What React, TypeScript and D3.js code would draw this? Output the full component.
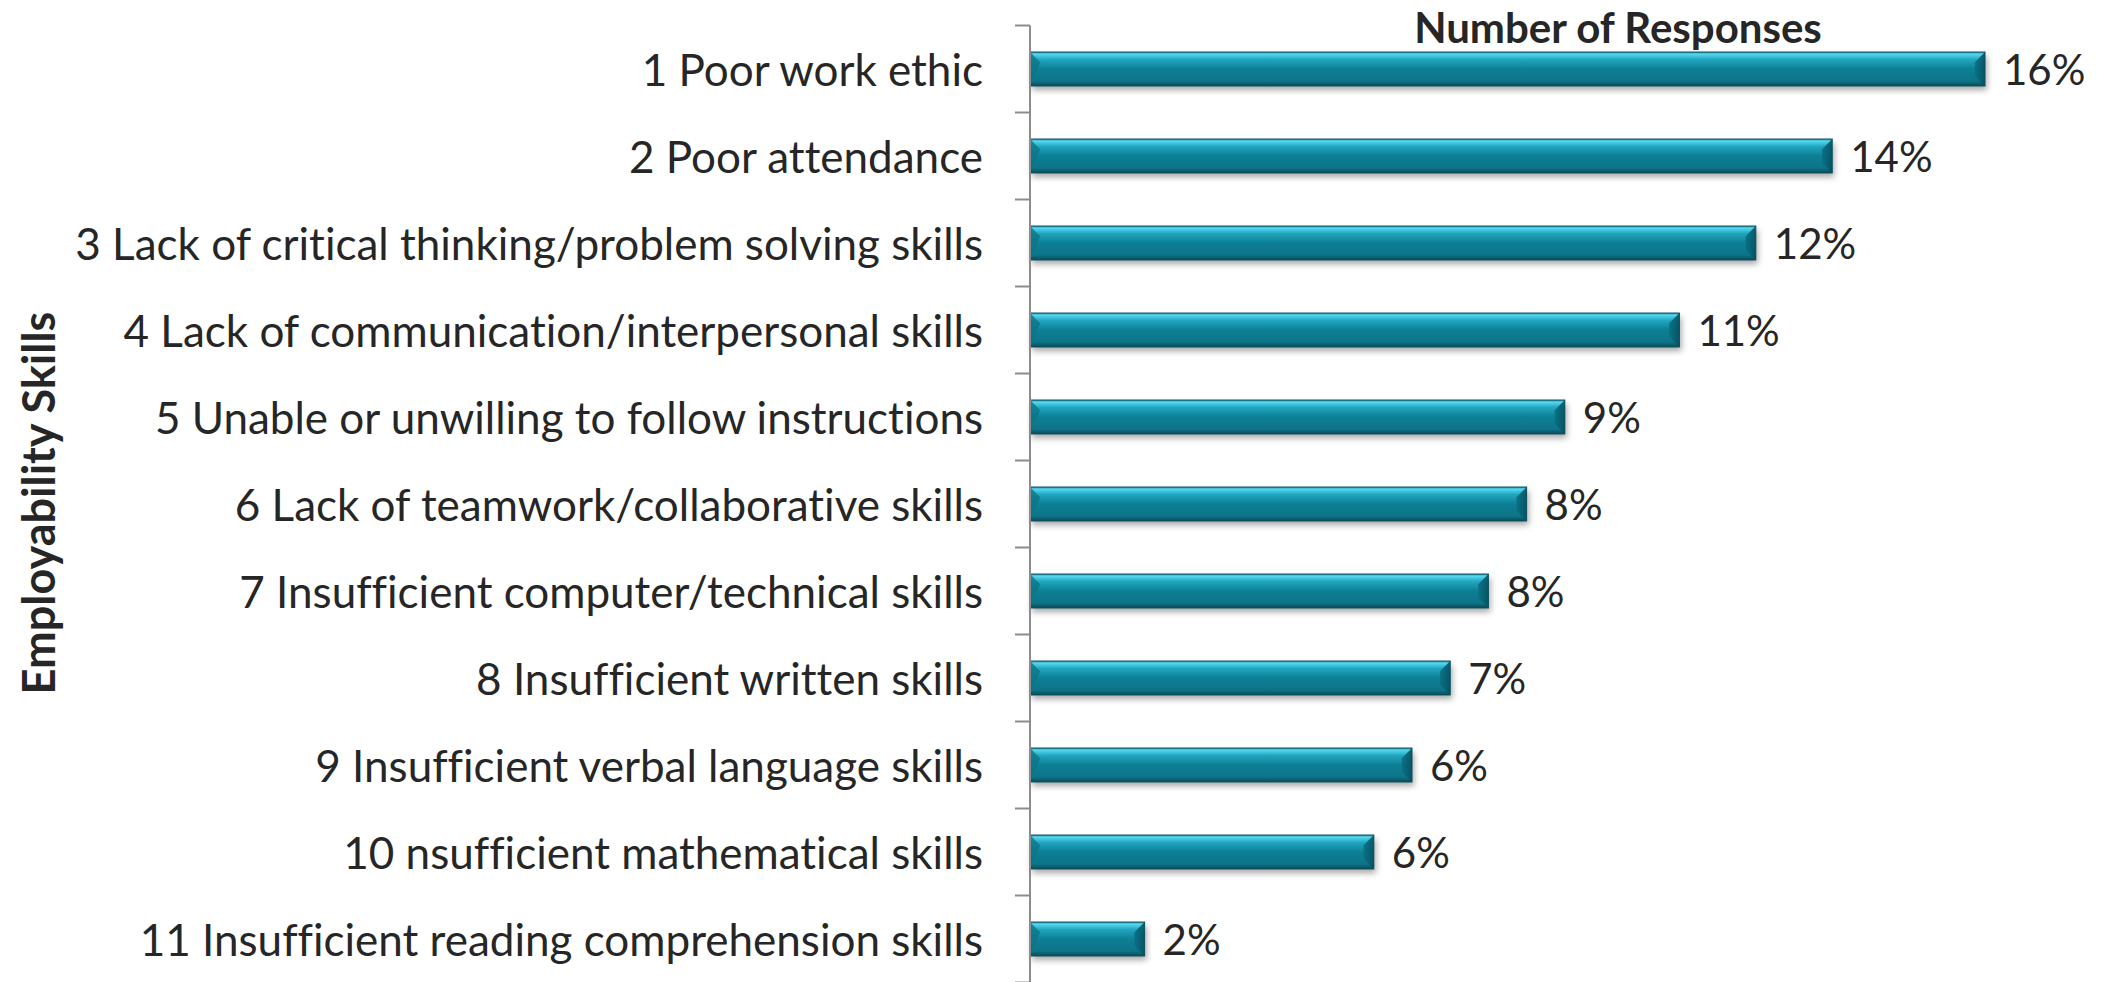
import React from "react";
import * as d3 from "d3";

const categories: string[] = [
  "1 Poor work ethic",
  "2 Poor attendance",
  "3 Lack of critical thinking/problem solving skills",
  "4 Lack of communication/interpersonal skills",
  "5 Unable or unwilling to follow instructions",
  "6 Lack of teamwork/collaborative skills",
  "7 Insufficient computer/technical skills",
  "8 Insufficient written skills",
  "9 Insufficient verbal language skills",
  "10 nsufficient mathematical skills",
  "11 Insufficient reading comprehension skills",
];
const responses: number[] = [25, 21, 19, 17, 14, 13, 12, 11, 10, 9, 3];
const percentLabels: string[] = ["16%", "14%", "12%", "11%", "9%", "8%", "8%", "7%", "6%", "6%", "2%"];
const chartTitle = "Number of Responses";
const yAxisTitle = "Employability Skills";

const W = 2106;
const H = 982;
const FONT = "Lato, 'Open Sans', sans-serif";
const noLig = { fontVariantLigatures: "none" as const };

export default function App() {
  const x = d3.scaleLinear().domain([0, 25]).range([1030, 1985]);
  const y = d3
    .scaleBand<string>()
    .domain(categories)
    .range([25.5, 982.5])
    .paddingInner(0.61)
    .paddingOuter(0.305);
  const step = y.step();
  const bw = y.bandwidth();
  const x0 = x(0);
  const boundaries = d3.range(categories.length + 1).map((i) => 25.5 + i * step);

  return (
    <svg
      width={W}
      height={H}
      style={{ position: "absolute", left: 0, top: 0, background: "#fff" }}
    >
      <defs>
        <linearGradient id="barGrad" x1="0" y1="0" x2="0" y2="1">
          <stop offset="0" stopColor="#1a8ea5" />
          <stop offset="0.06" stopColor="#55d8f0" />
          <stop offset="0.22" stopColor="#22a6bf" />
          <stop offset="0.5" stopColor="#0b7f95" />
          <stop offset="0.85" stopColor="#0a7489" />
          <stop offset="1" stopColor="#064a58" />
        </linearGradient>
        <linearGradient id="endGrad" x1="0" y1="0" x2="1" y2="0">
          <stop offset="0" stopColor="#0a6f84" />
          <stop offset="1" stopColor="#06505f" />
        </linearGradient>
        <filter id="shadow" x="-5%" y="-30%" width="110%" height="180%">
          <feDropShadow dx="2" dy="4" stdDeviation="3" floodColor="#000" floodOpacity="0.35" />
        </filter>
      </defs>

      {/* axis title */}
      <text
        transform={`translate(38,503) rotate(-90)`}
        textAnchor="middle"
        dominantBaseline="central"
        fontFamily={FONT}
        fontWeight="bold"
        fontSize={45}
        fill="#262626"
        style={noLig}
      >
        {yAxisTitle}
      </text>

      {/* chart title */}
      <text
        x={1618}
        y={43}
        textAnchor="middle"
        fontFamily={FONT}
        fontWeight="bold"
        fontSize={42}
        fill="#262626"
        style={noLig}
      >
        {chartTitle}
      </text>

      {/* bars */}
      {categories.map((c, i) => {
        const top = y(c)!;
        const x1 = x(responses[i]);
        const bev = bw * 0.3;
        return (
          <g key={c}>
            <g filter="url(#shadow)">
              <rect x={x0} y={top} width={x1 - x0} height={bw} fill="url(#barGrad)" />
            </g>
            <polygon
              points={`${x0},${top} ${x0 + bev},${top + bev} ${x0},${top + bw}`}
              fill="#0d7488"
              opacity={0.8}
            />
            <polygon
              points={`${x1},${top} ${x1},${top + bw} ${x1 - bev},${top + bw - bev} ${x1 - bev},${top + bev}`}
              fill="url(#endGrad)"
              opacity={0.9}
            />
            <rect x={x0} y={top} width={x1 - x0} height={bw} fill="none" stroke="#0a4f5d" strokeWidth={1} />
          </g>
        );
      })}

      {/* axis */}
      <line x1={x0} x2={x0} y1={boundaries[0]} y2={H} stroke="#8c8c8c" strokeWidth={2} />
      {boundaries.map((b, i) => (
        <line key={i} x1={x0 - 15} x2={x0} y1={b} y2={b} stroke="#8c8c8c" strokeWidth={2} />
      ))}

      {/* category labels */}
      {categories.map((c) => (
        <text
          key={c}
          x={983}
          y={y(c)! + bw / 2}
          textAnchor="end"
          dominantBaseline="central"
          fontFamily={FONT}
          fontSize={44}
          fill="#262626"
          style={noLig}
        >
          {c}
        </text>
      ))}

      {/* value labels */}
      {categories.map((c, i) => (
        <text
          key={c}
          x={x(responses[i]) + 18}
          y={y(c)! + bw / 2}
          dominantBaseline="central"
          fontFamily={FONT}
          fontSize={42}
          fill="#262626"
          style={noLig}
        >
          {percentLabels[i]}
        </text>
      ))}
    </svg>
  );
}
